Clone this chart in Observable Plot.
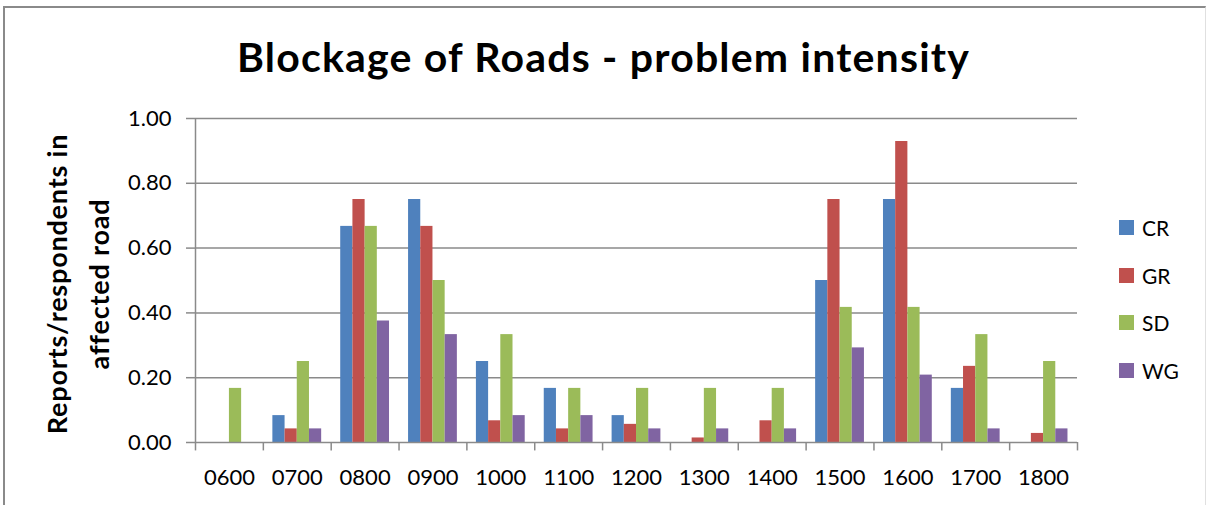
<!DOCTYPE html>
<html>
<head>
<meta charset="utf-8">
<script src="https://cdn.jsdelivr.net/npm/d3@7"></script>
<script src="https://cdn.jsdelivr.net/npm/@observablehq/plot@0.6"></script>
<style>
  html, body { margin: 0; padding: 0; background: #fff; }
  #wrap { position: relative; width: 1207px; height: 505px; overflow: hidden; font-family: Lato, "Open Sans", sans-serif; }
  #border { position: absolute; left: 3px; top: 6px; width: 1200px; height: 520px; border-top: 2px solid #8a8a8a; border-left: 2px solid #8a8a8a; border-right: 1px solid #e0e0e0; }
  #title { position: absolute; left: 0; width: 1207px; top: 32px; text-align: center; font-weight: bold; font-size: 41px; letter-spacing: 1.2px; color: #000; }
  #ylabel { position: absolute; left: 78px; top: 284px; transform: translate(-50%, -50%) rotate(-90deg); white-space: nowrap; text-align: center; font-weight: bold; font-size: 27px; letter-spacing: 0.8px; line-height: 42px; color: #000; }
  #legend { position: absolute; left: 1119px; top: 216px; }
  .li { position: absolute; left: 0; height: 24px; white-space: nowrap; font-size: 21px; color: #000; }
  .sw { position: absolute; left: 0; top: 4px; width: 15px; height: 15px; }
  .lt { position: absolute; left: 23px; top: -1px; }
  svg g[aria-label="y-axis tick"] path { stroke: #8a8a8a; stroke-width: 1.5px; }
  #chart { position: absolute; left: 0; top: 0; }
</style>
</head>
<body>
<div id="wrap">
  <div id="border"></div>
  <div id="chart"></div>
  <div id="title"></div>
  <div id="ylabel"></div>
  <div id="legend"></div>
</div>
<script>
const titleText = "Blockage of Roads - problem intensity";
const yLabelLines = ["Reports/respondents in", "affected road"];
const times = ["0600","0700","0800","0900","1000","1100","1200","1300","1400","1500","1600","1700","1800"];
const series = ["CR","GR","SD","WG"];
const colors = ["#4F81BD","#C0504D","#9BBB59","#8064A2"];
const CR = [0, 0.083, 0.667, 0.75, 0.25, 0.167, 0.083, 0, 0, 0.5, 0.75, 0.167, 0];
const GR = [0, 0.042, 0.75, 0.667, 0.067, 0.042, 0.056, 0.014, 0.067, 0.75, 0.929, 0.235, 0.028];
const SD = [0.167, 0.25, 0.667, 0.5, 0.333, 0.167, 0.167, 0.167, 0.167, 0.417, 0.417, 0.333, 0.25];
const WG = [0, 0.042, 0.375, 0.333, 0.083, 0.083, 0.042, 0.042, 0.042, 0.292, 0.208, 0.042, 0.042];
const yTicks = [0, 0.2, 0.4, 0.6, 0.8, 1.0];

const values = [CR, GR, SD, WG];
const data = [];
series.forEach((s, i) => times.forEach((t, j) => data.push({time: t, series: s, value: values[i][j]})));

const W = 1207, H = 505, ML = 195, MR = 130, MT = 118, MB = 63;
const bw = (W - ML - MR) / times.length;
const barW = 12.2;
const gap = (bw - 4 * barW) / 2;
const gridColor = "#8a8a8a";

const barMarks = series.map((s, i) => Plot.barY(data.filter(d => d.series === s), {
  x: "time", y: "value", fill: colors[i],
  insetLeft: gap + i * barW,
  insetRight: bw - gap - (i + 1) * barW
}));

const chart = Plot.plot({
  width: W, height: H,
  marginLeft: ML, marginRight: MR, marginTop: MT, marginBottom: MB,
  style: {fontFamily: "Lato, 'Open Sans', sans-serif", fontSize: "22px", color: "#000", background: "transparent"},
  x: {domain: times, padding: 0, round: false, tickSize: 0, tickPadding: 27, label: null},
  y: {domain: [0, 1], ticks: yTicks, tickFormat: d3.format(".2f"), tickSize: 9, tickPadding: 15, label: null},
  marks: [
    Plot.ruleY(yTicks.filter(v => v > 0), {stroke: gridColor, strokeWidth: 1.5}),
    ...barMarks,
    Plot.ruleY([0], {stroke: gridColor, strokeWidth: 1.5}),
    Plot.ruleX([times[0]], {x: d => d, dx: -bw / 2, y1: 0, y2: 1, stroke: gridColor, strokeWidth: 1.5}),
    Plot.ruleX(times, {x: d => d, dx: -bw / 2, y1: 0, y2: -0.026, stroke: gridColor, strokeWidth: 1.5}),
    Plot.ruleX([times[times.length - 1]], {x: d => d, dx: bw / 2, y1: 0, y2: -0.026, stroke: gridColor, strokeWidth: 1.5})
  ]
});
document.getElementById("chart").appendChild(chart);

document.getElementById("title").textContent = titleText;
document.getElementById("ylabel").innerHTML = yLabelLines.join("<br>");
const legend = document.getElementById("legend");
series.forEach((s, i) => {
  const li = document.createElement("div");
  li.className = "li";
  li.style.top = (i * 47.7) + "px";
  li.innerHTML = `<div class="sw" style="background:${colors[i]}"></div><div class="lt">${s}</div>`;
  legend.appendChild(li);
});
</script>
</body>
</html>
